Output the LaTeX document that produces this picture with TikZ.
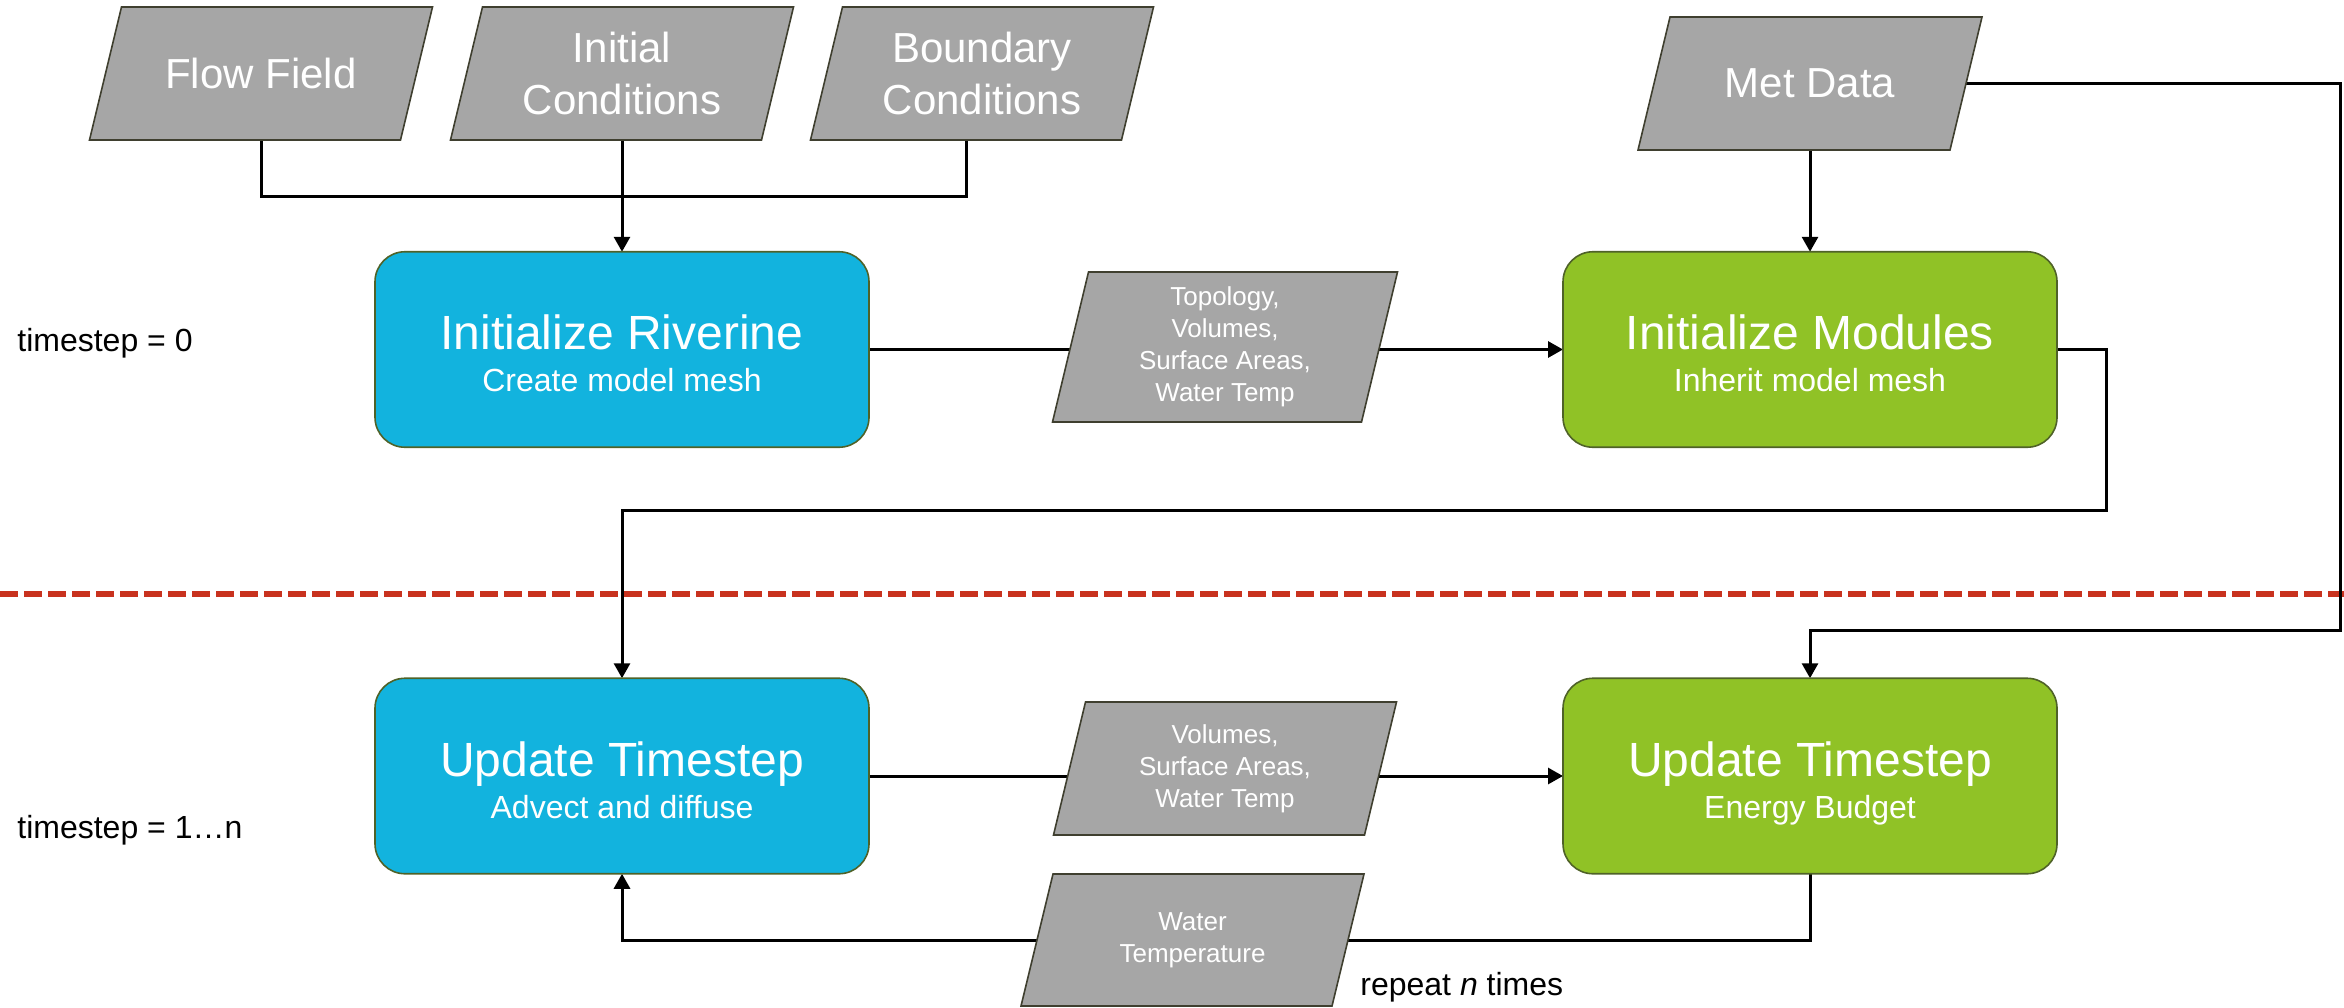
\documentclass[tikz,border=0pt]{standalone}
\usepackage{fontspec}
\setmainfont{Liberation Sans}
\usetikzlibrary{arrows.meta,calc}
\definecolor{procblue}{HTML}{12B3DE}
\definecolor{procgreen}{HTML}{90C226}
\definecolor{boxedge}{HTML}{4F6228}
\definecolor{paragray}{HTML}{A6A6A6}
\definecolor{paraedge}{HTML}{3F3F2F}
\definecolor{divred}{HTML}{C8321E}
\pgfdeclarelayer{lines}
\pgfdeclarelayer{shapes}
\pgfsetlayers{lines,shapes,main}
\newcommand\paradraw[2]{%
  \begin{pgfonlayer}{shapes}
  \filldraw[parashape] ($(#1.north west)+(#2,0)$) -- ($(#1.north east)+(#2,0)$) -- ($(#1.south east)+(-#2,0)$) -- ($(#1.south west)+(-#2,0)$) -- cycle;
  \end{pgfonlayer}}
\begin{document}
\begin{tikzpicture}[x=0.5pt,y=-0.5pt,
  proc/.style={rectangle, rounded corners=15pt, draw=boxedge, line width=0.8pt, inner sep=0pt, outer sep=0pt, minimum height=97.75pt, minimum width=247pt},
  title/.style={text=white, font=\fontsize{24}{28}\selectfont, anchor=base, inner sep=0pt},
  subtitle/.style={text=white, font=\fontsize{16}{19}\selectfont, anchor=base, inner sep=0pt},
  paranode/.style={rectangle, inner sep=0pt, outer sep=0pt, text=white, align=center},
  bigpara/.style={paranode, font=\fontsize{21}{26}\selectfont, minimum height=66.5pt, minimum width=155.5pt},
  smallpara/.style={paranode, font=\fontsize{13}{16}\selectfont, minimum width=155.5pt},
  parashape/.style={fill=paragray, draw=paraedge, line width=0.8pt},
  conn/.style={draw=black, line width=1.5pt},
  arr/.style={conn, -{Triangle[length=7.5pt,width=8pt]}},
  lbl/.style={font=\fontsize{16}{19}\selectfont, inner sep=0pt, anchor=base west}]
\useasboundingbox (0,0) rectangle (2344,1007);

% input parallelograms
\node[bigpara] (flow) at (261,73.5) {Flow Field};
\paradraw{flow}{16}
\node[bigpara] (ic) at (622,73.5) {Initial\\Conditions};
\paradraw{ic}{16}
\node[bigpara] (bc) at (982,73.5) {Boundary\\Conditions};
\paradraw{bc}{16}
\node[bigpara, minimum width=156pt] (met) at (1810,83.5) {Met Data};
\paradraw{met}{16}

% process boxes
\node[proc, fill=procblue] (riv) at (622,349.5) {};
\node[title] (rivt) at (riv.center) {Initialize Riverine};
\node[subtitle] (rivs) at ([yshift=-21pt]riv.center) {Create model mesh};

\node[proc, fill=procgreen] (mod) at (1810,349.5) {};
\node[title] (modt) at (mod.center) {Initialize Modules};
\node[subtitle] (mods) at ([yshift=-21pt]mod.center) {Inherit model mesh};

\node[proc, fill=procblue] (upa) at (622,776) {};
\node[title] (upat) at (upa.center) {Update Timestep};
\node[subtitle] (upas) at ([yshift=-21pt]upa.center) {Advect and diffuse};

\node[proc, fill=procgreen] (upb) at (1810,776) {};
\node[title] (upbt) at (upb.center) {Update Timestep};
\node[subtitle] (upbs) at ([yshift=-21pt]upb.center) {Energy Budget};

% data parallelograms
\node[smallpara, minimum height=75pt, minimum width=154.5pt] (topo) at (1225,347) {Topology,\\Volumes,\\Surface Areas,\\Water Temp};
\paradraw{topo}{18}
\node[smallpara, minimum height=66.5pt] (vol) at (1225,768.5) {Volumes,\\Surface Areas,\\Water Temp};
\paradraw{vol}{16}
\node[smallpara, minimum height=66pt] (wt) at (1192.5,940) {Water\\Temperature};
\paradraw{wt}{16}

% labels
\node[lbl] (ts0) at (17,351) {timestep = 0};
\node[lbl] (tsn) at (17,838) {timestep = 1…n};
\node[lbl] (rep) at (1360,995) {repeat \textit{n} times};

% coordinates for connector bends
\coordinate (dl) at (0,594);
\coordinate (dr) at (2344,594);
\coordinate (metc) at (2340,630);
\coordinate (modc) at (2106,510);

\begin{pgfonlayer}{lines}
\draw[divred, line width=3pt, dash pattern=on 9pt off 3pt] (dl) -- (dr);
\draw[conn] (flow.south) -- ++(0,56) -| ([xshift=-8pt]bc.south);
\draw[arr] (ic.south) -- (riv.north);
\draw[arr] (met.south) -- (mod.north);
\draw[arr] (riv.east) -- (mod.west);
\draw[arr] (mod.east) -| (modc) -| (upa.north);
\draw[arr] (met.east) -| (metc) -| (upb.north);
\draw[arr] (upa.east) -- (upb.west);
\draw[arr] (upb.south) |- (wt.east) -- (wt.west) -| (upa.south);
\end{pgfonlayer}
\end{tikzpicture}
\end{document}
